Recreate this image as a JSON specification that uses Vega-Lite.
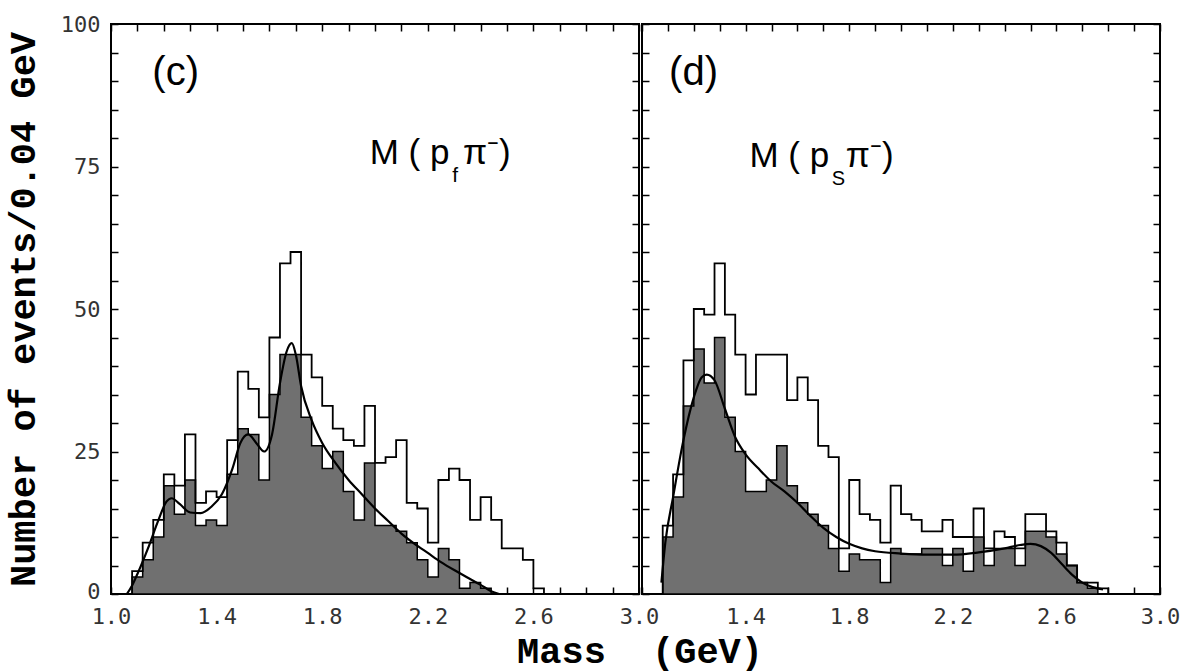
{
  "$schema": "https://vega.github.io/schema/vega-lite/v6.json",
  "background": "white",
  "padding": {"left": 3, "top": 12, "right": 5, "bottom": 2},
  "spacing": 3,
  "bounds": "flush",
  "datasets": {
    "histL": [
      {"lo": 1.00, "all": 0, "sel": 0}, {"lo": 1.04, "all": 0, "sel": 0}, {"lo": 1.08, "all": 4, "sel": 3},
      {"lo": 1.12, "all": 9, "sel": 6}, {"lo": 1.16, "all": 13, "sel": 10}, {"lo": 1.20, "all": 21, "sel": 19},
      {"lo": 1.24, "all": 19, "sel": 14}, {"lo": 1.28, "all": 28, "sel": 20}, {"lo": 1.32, "all": 16, "sel": 12},
      {"lo": 1.36, "all": 18, "sel": 13}, {"lo": 1.40, "all": 17, "sel": 12}, {"lo": 1.44, "all": 27, "sel": 21},
      {"lo": 1.48, "all": 39, "sel": 29}, {"lo": 1.52, "all": 36, "sel": 28}, {"lo": 1.56, "all": 31, "sel": 20},
      {"lo": 1.60, "all": 45, "sel": 35}, {"lo": 1.64, "all": 58, "sel": 42}, {"lo": 1.68, "all": 60, "sel": 42},
      {"lo": 1.72, "all": 42, "sel": 31}, {"lo": 1.76, "all": 38, "sel": 26}, {"lo": 1.80, "all": 33, "sel": 22},
      {"lo": 1.84, "all": 29, "sel": 25}, {"lo": 1.88, "all": 27, "sel": 18}, {"lo": 1.92, "all": 26, "sel": 13},
      {"lo": 1.96, "all": 33, "sel": 23}, {"lo": 2.00, "all": 23, "sel": 12}, {"lo": 2.04, "all": 24, "sel": 12},
      {"lo": 2.08, "all": 27, "sel": 11}, {"lo": 2.12, "all": 16, "sel": 9}, {"lo": 2.16, "all": 15, "sel": 6},
      {"lo": 2.20, "all": 9, "sel": 3}, {"lo": 2.24, "all": 20, "sel": 8}, {"lo": 2.28, "all": 22, "sel": 6},
      {"lo": 2.32, "all": 20, "sel": 1}, {"lo": 2.36, "all": 13, "sel": 2}, {"lo": 2.40, "all": 17, "sel": 1},
      {"lo": 2.44, "all": 13, "sel": 0}, {"lo": 2.48, "all": 8, "sel": 0}, {"lo": 2.52, "all": 8, "sel": 0},
      {"lo": 2.56, "all": 6, "sel": 0}, {"lo": 2.60, "all": 1, "sel": 0}, {"lo": 2.64, "all": 0, "sel": 0},
      {"lo": 2.68, "all": 0, "sel": 0}, {"lo": 2.72, "all": 0, "sel": 0}, {"lo": 2.76, "all": 0, "sel": 0},
      {"lo": 2.80, "all": 0, "sel": 0}, {"lo": 2.84, "all": 0, "sel": 0}, {"lo": 2.88, "all": 0, "sel": 0},
      {"lo": 2.92, "all": 0, "sel": 0}, {"lo": 2.96, "all": 0, "sel": 0}
    ],
    "histR": [
      {"lo": 1.00, "all": 0, "sel": 0}, {"lo": 1.04, "all": 0, "sel": 0}, {"lo": 1.08, "all": 12, "sel": 10},
      {"lo": 1.12, "all": 21, "sel": 17}, {"lo": 1.16, "all": 41, "sel": 33}, {"lo": 1.20, "all": 50, "sel": 43},
      {"lo": 1.24, "all": 49, "sel": 37}, {"lo": 1.28, "all": 58, "sel": 45}, {"lo": 1.32, "all": 49, "sel": 31},
      {"lo": 1.36, "all": 42, "sel": 25}, {"lo": 1.40, "all": 35, "sel": 18}, {"lo": 1.44, "all": 42, "sel": 18},
      {"lo": 1.48, "all": 42, "sel": 20}, {"lo": 1.52, "all": 42, "sel": 26}, {"lo": 1.56, "all": 34, "sel": 19},
      {"lo": 1.60, "all": 38, "sel": 16}, {"lo": 1.64, "all": 34, "sel": 14}, {"lo": 1.68, "all": 26, "sel": 12},
      {"lo": 1.72, "all": 24, "sel": 8}, {"lo": 1.76, "all": 8, "sel": 4}, {"lo": 1.80, "all": 20, "sel": 7},
      {"lo": 1.84, "all": 14, "sel": 6}, {"lo": 1.88, "all": 13, "sel": 6}, {"lo": 1.92, "all": 9, "sel": 2},
      {"lo": 1.96, "all": 19, "sel": 8}, {"lo": 2.00, "all": 14, "sel": 7}, {"lo": 2.04, "all": 13, "sel": 7},
      {"lo": 2.08, "all": 11, "sel": 8}, {"lo": 2.12, "all": 11, "sel": 8}, {"lo": 2.16, "all": 13, "sel": 5},
      {"lo": 2.20, "all": 10, "sel": 8}, {"lo": 2.24, "all": 10, "sel": 4}, {"lo": 2.28, "all": 15, "sel": 10},
      {"lo": 2.32, "all": 8, "sel": 5}, {"lo": 2.36, "all": 11, "sel": 8}, {"lo": 2.40, "all": 10, "sel": 8},
      {"lo": 2.44, "all": 8, "sel": 5}, {"lo": 2.48, "all": 14, "sel": 11}, {"lo": 2.52, "all": 14, "sel": 11},
      {"lo": 2.56, "all": 11, "sel": 10}, {"lo": 2.60, "all": 9, "sel": 7}, {"lo": 2.64, "all": 5, "sel": 5},
      {"lo": 2.68, "all": 2, "sel": 2}, {"lo": 2.72, "all": 2, "sel": 1}, {"lo": 2.76, "all": 1, "sel": 0},
      {"lo": 2.80, "all": 0, "sel": 0}, {"lo": 2.84, "all": 0, "sel": 0}, {"lo": 2.88, "all": 0, "sel": 0},
      {"lo": 2.92, "all": 0, "sel": 0}, {"lo": 2.96, "all": 0, "sel": 0}
    ],
    "fitL": [
      {"m": 1.06, "f": 0}, {"m": 1.08, "f": 1.5}, {"m": 1.10, "f": 3.5}, {"m": 1.14, "f": 8}, {"m": 1.18, "f": 13},
      {"m": 1.21, "f": 16.2}, {"m": 1.23, "f": 16.8}, {"m": 1.26, "f": 15.8}, {"m": 1.30, "f": 14.3}, {"m": 1.34, "f": 14.2},
      {"m": 1.38, "f": 15.3}, {"m": 1.42, "f": 17.5}, {"m": 1.46, "f": 22}, {"m": 1.49, "f": 26.5}, {"m": 1.52, "f": 28},
      {"m": 1.55, "f": 26.5}, {"m": 1.58, "f": 25}, {"m": 1.61, "f": 28}, {"m": 1.64, "f": 37}, {"m": 1.665, "f": 42.5},
      {"m": 1.685, "f": 44}, {"m": 1.70, "f": 42}, {"m": 1.72, "f": 36.5}, {"m": 1.76, "f": 30.5}, {"m": 1.80, "f": 26.5},
      {"m": 1.85, "f": 23}, {"m": 1.90, "f": 20}, {"m": 1.95, "f": 17.5}, {"m": 2.00, "f": 15}, {"m": 2.05, "f": 12.8},
      {"m": 2.10, "f": 10.6}, {"m": 2.15, "f": 8.8}, {"m": 2.20, "f": 7.2}, {"m": 2.25, "f": 5.6}, {"m": 2.30, "f": 4.2},
      {"m": 2.35, "f": 2.9}, {"m": 2.40, "f": 1.6}, {"m": 2.44, "f": 0.5}, {"m": 2.47, "f": 0}
    ],
    "fitR": [
      {"m": 1.075, "f": 2}, {"m": 1.09, "f": 9}, {"m": 1.12, "f": 17}, {"m": 1.16, "f": 27}, {"m": 1.20, "f": 34.5},
      {"m": 1.23, "f": 38}, {"m": 1.25, "f": 38.5}, {"m": 1.28, "f": 37.5}, {"m": 1.32, "f": 32.5}, {"m": 1.36, "f": 27.5},
      {"m": 1.40, "f": 24.5}, {"m": 1.45, "f": 22}, {"m": 1.50, "f": 19.7}, {"m": 1.55, "f": 18}, {"m": 1.60, "f": 16},
      {"m": 1.65, "f": 13.7}, {"m": 1.70, "f": 11.6}, {"m": 1.75, "f": 10}, {"m": 1.80, "f": 8.8}, {"m": 1.85, "f": 8},
      {"m": 1.90, "f": 7.5}, {"m": 2.00, "f": 7.1}, {"m": 2.10, "f": 6.9}, {"m": 2.20, "f": 6.9}, {"m": 2.30, "f": 7.3},
      {"m": 2.40, "f": 8}, {"m": 2.46, "f": 8.6}, {"m": 2.50, "f": 8.8}, {"m": 2.54, "f": 8.4}, {"m": 2.58, "f": 7.2},
      {"m": 2.62, "f": 5.3}, {"m": 2.66, "f": 3.4}, {"m": 2.70, "f": 2}, {"m": 2.74, "f": 1.2}, {"m": 2.78, "f": 0.8}
    ]
  },
  "hconcat": [
    {
      "width": 528,
      "height": 570,
      "layer": [
        {
          "data": {"name": "histL"},
          "mark": {"type": "area", "interpolate": "step-after", "fill": "#707070", "stroke": "black", "strokeWidth": 1.5},
          "encoding": {
            "x": {"field": "lo", "type": "quantitative", "scale": {"domain": [1, 3], "nice": false, "zero": false},
              "axis": {"orient": "bottom", "values": [1.0,1.1,1.2,1.3,1.4,1.5,1.6,1.7,1.8,1.9,2.0,2.1,2.2,2.3,2.4,2.5,2.6,2.7,2.8,2.9,3.0],
                "labelExpr": "round(datum.value*10)%4==2 ? format(datum.value,'.1f') : ''",
                "tickSize": -7, "labelPadding": 19, "labelFlush": false,
                "title": "Mass", "titleX": 450, "titleY": 68, "titleAlign": "center", "titleBaseline": "alphabetic"}},
            "y": {"field": "sel", "type": "quantitative", "scale": {"domain": [0, 100], "nice": false},
              "axis": {"orient": "left", "values": [0,5,10,15,20,25,30,35,40,45,50,55,60,65,70,75,80,85,90,95,100],
                "labelExpr": "datum.value%25==0 ? datum.value : ''",
                "labelOffset": {"condition": {"test": "datum.value==0", "value": -3}, "value": 0},
                "tickSize": -7, "labelPadding": 18,
                "title": "Number of events/0.04 GeV", "titleX": -88, "titleAngle": -90, "titleBaseline": "middle", "titleAlign": "center"}}
          }
        },
        {
          "data": {"name": "histL"},
          "mark": {"type": "line", "interpolate": "step-after", "color": "black", "strokeWidth": 1.8},
          "encoding": {
            "x": {"field": "lo", "type": "quantitative", "scale": {"domain": [1, 3], "nice": false, "zero": false},
              "axis": {"orient": "top", "values": [1.0,1.1,1.2,1.3,1.4,1.5,1.6,1.7,1.8,1.9,2.0,2.1,2.2,2.3,2.4,2.5,2.6,2.7,2.8,2.9,3.0], "labels": false, "tickSize": -7, "title": null}},
            "y": {"field": "all", "type": "quantitative", "scale": {"domain": [0, 100], "nice": false},
              "axis": {"orient": "right", "values": [0,5,10,15,20,25,30,35,40,45,50,55,60,65,70,75,80,85,90,95,100], "labels": false, "tickSize": -7, "title": null}}
          }
        },
        {
          "data": {"name": "fitL"},
          "mark": {"type": "line", "interpolate": "monotone", "color": "black", "strokeWidth": 2.2},
          "encoding": {
            "x": {"field": "m", "type": "quantitative", "scale": {"domain": [1, 3], "nice": false, "zero": false}, "axis": null},
            "y": {"field": "f", "type": "quantitative", "scale": {"domain": [0, 100], "nice": false}, "axis": null}
          }
        },
        {
          "data": {"values": [{"label": "(c)"}]},
          "mark": {"type": "text", "font": "Liberation Sans", "fontSize": 40, "align": "center", "baseline": "middle", "color": "black"},
          "encoding": {"text": {"field": "label"}, "x": {"datum": 1.245, "axis": null}, "y": {"datum": 91.4, "axis": null}}
        },
        {
          "data": {"values": [{"label": "M ( p"}]},
          "mark": {"type": "text", "font": "Liberation Sans", "fontSize": 35, "align": "left", "baseline": "alphabetic", "color": "black"},
          "encoding": {"text": {"field": "label"}, "x": {"datum": 1.98, "axis": null}, "y": {"datum": 75.4, "axis": null}}
        },
        {
          "data": {"values": [{"label": "f"}]},
          "mark": {"type": "text", "font": "Liberation Sans", "fontSize": 21, "align": "left", "baseline": "alphabetic", "color": "black"},
          "encoding": {"text": {"field": "label"}, "x": {"datum": 2.293, "axis": null}, "y": {"datum": 72.3, "axis": null}}
        },
        {
          "data": {"values": [{"label": "π⁻)"}]},
          "mark": {"type": "text", "font": "Liberation Sans", "fontSize": 35, "align": "left", "baseline": "alphabetic", "color": "black"},
          "encoding": {"text": {"field": "label"}, "x": {"datum": 2.333, "axis": null}, "y": {"datum": 75.4, "axis": null}}
        }
      ]
    },
    {
      "width": 518,
      "height": 570,
      "layer": [
        {
          "data": {"name": "histR"},
          "mark": {"type": "area", "interpolate": "step-after", "fill": "#707070", "stroke": "black", "strokeWidth": 1.5},
          "encoding": {
            "x": {"field": "lo", "type": "quantitative", "scale": {"domain": [1, 3], "nice": false, "zero": false},
              "axis": {"orient": "bottom", "values": [1.0,1.1,1.2,1.3,1.4,1.5,1.6,1.7,1.8,1.9,2.0,2.1,2.2,2.3,2.4,2.5,2.6,2.7,2.8,2.9,3.0],
                "labelExpr": "round(datum.value*10)%4==2 && datum.value>1.05 ? format(datum.value,'.1f') : ''",
                "tickSize": -7, "labelPadding": 19, "labelFlush": false,
                "title": "(GeV)", "titleX": 65, "titleY": 68, "titleAlign": "center", "titleBaseline": "alphabetic"}},
            "y": {"field": "sel", "type": "quantitative", "scale": {"domain": [0, 100], "nice": false},
              "axis": {"orient": "left", "values": [0,5,10,15,20,25,30,35,40,45,50,55,60,65,70,75,80,85,90,95,100], "labels": false, "tickSize": -7, "title": null}}
          }
        },
        {
          "data": {"name": "histR"},
          "mark": {"type": "line", "interpolate": "step-after", "color": "black", "strokeWidth": 1.8},
          "encoding": {
            "x": {"field": "lo", "type": "quantitative", "scale": {"domain": [1, 3], "nice": false, "zero": false},
              "axis": {"orient": "top", "values": [1.0,1.1,1.2,1.3,1.4,1.5,1.6,1.7,1.8,1.9,2.0,2.1,2.2,2.3,2.4,2.5,2.6,2.7,2.8,2.9,3.0], "labels": false, "tickSize": -7, "title": null}},
            "y": {"field": "all", "type": "quantitative", "scale": {"domain": [0, 100], "nice": false},
              "axis": {"orient": "right", "values": [0,5,10,15,20,25,30,35,40,45,50,55,60,65,70,75,80,85,90,95,100], "labels": false, "tickSize": -7, "title": null}}
          }
        },
        {
          "data": {"name": "fitR"},
          "mark": {"type": "line", "interpolate": "monotone", "color": "black", "strokeWidth": 2.2},
          "encoding": {
            "x": {"field": "m", "type": "quantitative", "scale": {"domain": [1, 3], "nice": false, "zero": false}, "axis": null},
            "y": {"field": "f", "type": "quantitative", "scale": {"domain": [0, 100], "nice": false}, "axis": null}
          }
        },
        {
          "data": {"values": [{"label": "(d)"}]},
          "mark": {"type": "text", "font": "Liberation Sans", "fontSize": 40, "align": "center", "baseline": "middle", "color": "black"},
          "encoding": {"text": {"field": "label"}, "x": {"datum": 1.199, "axis": null}, "y": {"datum": 91.4, "axis": null}}
        },
        {
          "data": {"values": [{"label": "M ( p"}]},
          "mark": {"type": "text", "font": "Liberation Sans", "fontSize": 35, "align": "left", "baseline": "alphabetic", "color": "black"},
          "encoding": {"text": {"field": "label"}, "x": {"datum": 1.415, "axis": null}, "y": {"datum": 74.9, "axis": null}}
        },
        {
          "data": {"values": [{"label": "S"}]},
          "mark": {"type": "text", "font": "Liberation Sans", "fontSize": 20, "align": "left", "baseline": "alphabetic", "color": "black"},
          "encoding": {"text": {"field": "label"}, "x": {"datum": 1.733, "axis": null}, "y": {"datum": 71.8, "axis": null}}
        },
        {
          "data": {"values": [{"label": "π⁻)"}]},
          "mark": {"type": "text", "font": "Liberation Sans", "fontSize": 35, "align": "left", "baseline": "alphabetic", "color": "black"},
          "encoding": {"text": {"field": "label"}, "x": {"datum": 1.787, "axis": null}, "y": {"datum": 74.9, "axis": null}}
        }
      ]
    }
  ],
  "config": {
    "view": {"stroke": "black", "strokeWidth": 2},
    "axis": {"domain": false, "grid": false, "tickColor": "black", "tickWidth": 1.5,
      "labelFont": "DejaVu Sans Mono", "labelFontSize": 22, "labelColor": "#333333",
      "titleFont": "Liberation Mono", "titleFontSize": 37, "titleFontWeight": "bold", "titleColor": "black"}
  }
}
